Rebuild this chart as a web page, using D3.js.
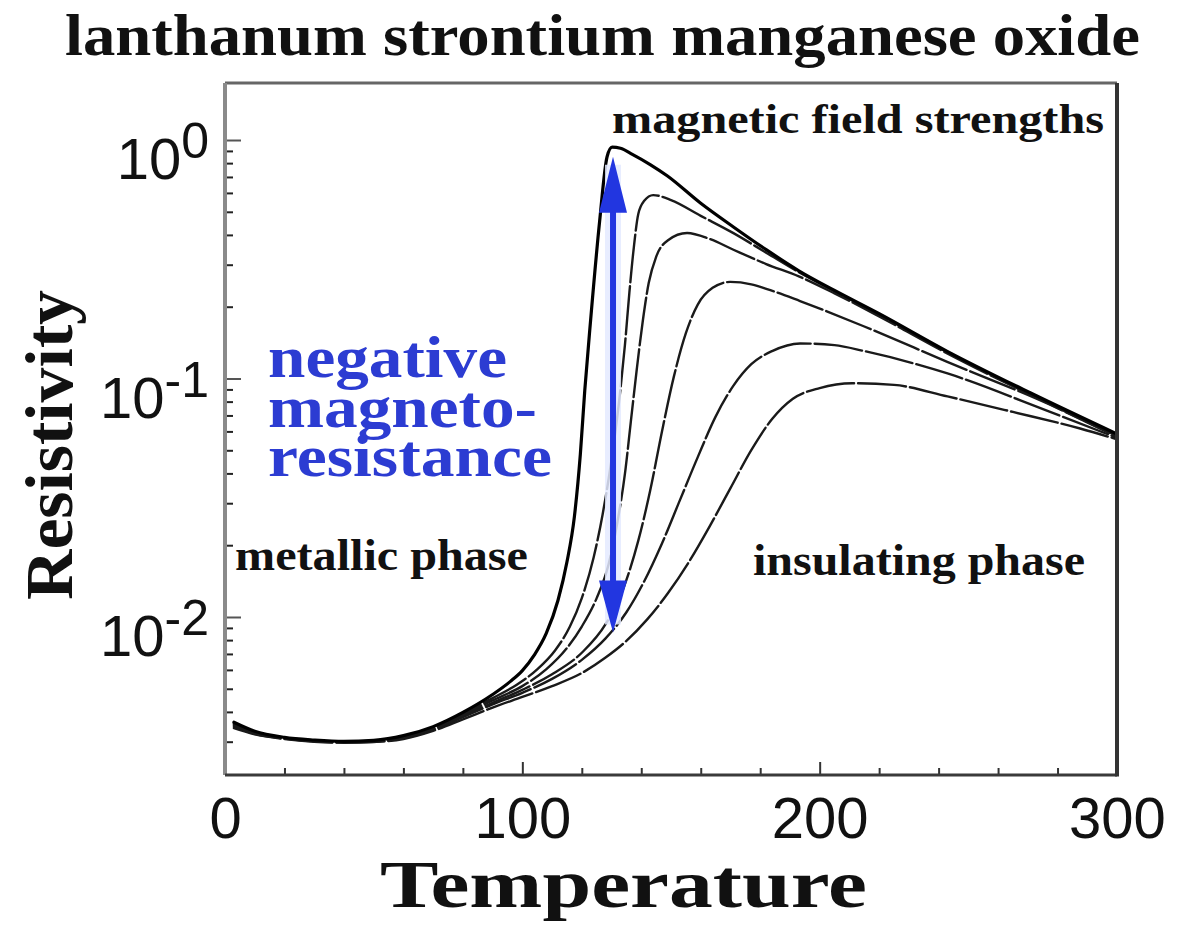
<!DOCTYPE html>
<html><head><meta charset="utf-8">
<script src="https://cdn.jsdelivr.net/npm/d3@7"></script>
<style>html,body{margin:0;padding:0;background:#fff;} svg{display:block;}</style>
</head><body>
<svg id="chart" width="1181" height="925"></svg>
<script>
// ---------- data (temperature in K, resistivity) ----------
const xTickValues = [0, 100, 200, 300];
const xMinorTickValues = [20, 40, 60, 80, 120, 140, 160, 180, 220, 240, 260, 280];
const yTickValues = [1, 0.1, 0.01];
const yTickExponents = ["0", "-1", "-2"];

const tempField0 = [3,10,20,30,40,50,60,70,80,90,96,100,104,108,112,115,117.5,119.5,121,123,126,128.5,130.2,133,137,143,148.7,160,171,182,193,205,220,242.9,270.8,300];
const rhoField0  = [3.62e-3,3.32e-3,3.13e-3,3.05e-3,3.01e-3,3.04e-3,3.18e-3,3.47e-3,3.98e-3,4.73e-3,5.37e-3,5.96e-3,6.92e-3,8.51e-3,0.01175,0.0170,0.0263,0.0479,0.0891,0.178,0.457,0.851,0.933,0.923,0.871,0.789,0.708,0.543,0.432,0.347,0.283,0.234,0.187,0.130,0.0871,0.0585];

const tempField1 = [3,10,20,30,40,50,60,70,80,90,98,105,111,116,120,124,127,130,132.5,134.5,136,137.5,139,141,144,150,160,171,182,193,205,220,242.9,270.8,300];
const rhoField1  = [3.58e-3,3.30e-3,3.12e-3,3.04e-3,3.00e-3,3.03e-3,3.16e-3,3.43e-3,3.94e-3,4.57e-3,5.19e-3,6.03e-3,7.24e-3,9.12e-3,0.0120,0.0178,0.0269,0.0457,0.0794,0.138,0.229,0.355,0.490,0.556,0.5875,0.560,0.481,0.407,0.337,0.279,0.232,0.185,0.1288,0.0863,0.0581];

const tempField2 = [3,10,20,30,40,50,60,70,80,90,100,108,115,120,125,129,132,134.5,136.5,138.5,140.5,142.5,145,149,155.4,163,171,182,193,205,220,242.9,270.8,300];
const rhoField2  = [3.54e-3,3.28e-3,3.11e-3,3.03e-3,3.00e-3,3.02e-3,3.14e-3,3.40e-3,3.89e-3,4.47e-3,5.13e-3,6.03e-3,7.41e-3,9.12e-3,0.0120,0.0166,0.0251,0.0398,0.0661,0.1096,0.1738,0.2512,0.3236,0.3802,0.4074,0.3846,0.3467,0.302,0.2679,0.2275,0.182,0.1274,0.0855,0.0575];

const tempField3 = [3,10,20,30,40,50,60,70,80,90,100,110,120,128,134,139,143,147,151,155,159,164,169.9,177,182.3,193.4,214.6,242.9,277.5,300];
const rhoField3  = [3.50e-3,3.26e-3,3.10e-3,3.02e-3,2.99e-3,3.01e-3,3.12e-3,3.39e-3,3.85e-3,4.37e-3,4.95e-3,5.75e-3,7.08e-3,9.33e-3,0.0132,0.0209,0.0339,0.0603,0.1023,0.1549,0.2042,0.2399,0.2541,0.2483,0.2371,0.2113,0.166,0.1175,0.0776,0.0569];

const tempField4 = [3,10,20,30,40,50,60,70,80,90,100,110,120,128,135,141,147,153,159,165,171,177,184,193.4,205,215,243,277.5,300];
const rhoField4  = [3.46e-3,3.24e-3,3.09e-3,3.01e-3,2.98e-3,3.00e-3,3.10e-3,3.36e-3,3.80e-3,4.30e-3,4.81e-3,5.50e-3,6.61e-3,8.13e-3,0.01047,0.01413,0.0204,0.0309,0.0468,0.0692,0.0933,0.1148,0.1303,0.1403,0.138,0.1303,0.105,0.0724,0.0564];

const tempField5 = [3,10,20,30,40,50,60,70,80,90,100,110,120,128,135,142,149,156,163,170,177,184,191,200,211,225,243,265,287.6,300];
const rhoField5  = [3.42e-3,3.22e-3,3.08e-3,3.00e-3,2.97e-3,2.99e-3,3.08e-3,3.33e-3,3.72e-3,4.17e-3,4.62e-3,5.13e-3,5.82e-3,6.76e-3,7.94e-3,9.77e-3,0.0126,0.0170,0.0240,0.0347,0.0501,0.0676,0.0822,0.0912,0.0955,0.094,0.0841,0.0724,0.0617,0.0556];

const arrowTemp = 130.5, arrowTop = 0.85, arrowBottom = 0.0086;

// ---------- layout ----------
const W = 1181, H = 925;
const plot = {left: 225, right: 1117, top: 83, bottom: 775};
const serif = "'Liberation Serif','DejaVu Serif','Times New Roman',serif";
const sans = "'Liberation Sans',Arial,'DejaVu Sans',sans-serif";
const blue = "#2236e0";
const textBlue = "#2c3cd2";

const x = d3.scaleLinear().domain([0, 300]).range([plot.left, plot.right]);
const y = d3.scaleLog().domain([0.002175, 1.734]).range([plot.bottom, plot.top]);

const svg = d3.select("#chart");
svg.append("rect").attr("width", W).attr("height", H).attr("fill", "#fff");

svg.append("defs").append("clipPath").attr("id", "clip")
  .append("rect").attr("x", plot.left).attr("y", plot.top)
  .attr("width", plot.right - plot.left).attr("height", plot.bottom - plot.top);

// ---------- curves ----------
const series = [
  {T: tempField0, R: rhoField0, w: 3.2, c: "#000", dash: null},
  {T: tempField1, R: rhoField1, w: 2.4, c: "#1a1a1a", dash: "48,4"},
  {T: tempField2, R: rhoField2, w: 2.4, c: "#1a1a1a", dash: "48,4"},
  {T: tempField3, R: rhoField3, w: 2.4, c: "#1a1a1a", dash: "48,4"},
  {T: tempField4, R: rhoField4, w: 2.4, c: "#1a1a1a", dash: "48,4"},
  {T: tempField5, R: rhoField5, w: 2.4, c: "#1a1a1a", dash: "48,4"}
];
const line = d3.line().x(d => x(d[0])).y(d => y(d[1])).curve(d3.curveMonotoneX);
const gCurves = svg.append("g").attr("clip-path", "url(#clip)");
series.slice().reverse().forEach(s => {
  gCurves.append("path").datum(d3.zip(s.T, s.R))
    .attr("d", line).attr("fill", "none")
    .attr("stroke", s.c).attr("stroke-width", s.w)
    .attr("stroke-linejoin", "round").attr("stroke-linecap", "round")
    .attr("stroke-dasharray", s.dash);
});

// ---------- blue double arrow ----------
const ax = x(arrowTemp), ayT = y(arrowTop), ayB = y(arrowBottom);
const gA = svg.append("g");
gA.append("line").attr("x1", ax).attr("x2", ax).attr("y1", ayT + 8).attr("y2", ayB - 8)
  .attr("stroke", "#e4eaff").attr("stroke-width", 16).attr("opacity", 0.85);
gA.append("line").attr("x1", ax).attr("x2", ax).attr("y1", ayT + 50).attr("y2", ayB - 45)
  .attr("stroke", blue).attr("stroke-width", 6);
gA.append("path").attr("d", `M${ax},${ayT} L${ax-14},${ayT+56} L${ax+14},${ayT+56} Z`).attr("fill", blue);
gA.append("path").attr("d", `M${ax},${ayB} L${ax-14},${ayB-52} L${ax+14},${ayB-52} Z`).attr("fill", blue);

// ---------- axes ----------
const xMajor = svg.append("g").attr("transform", `translate(0,${plot.bottom})`)
  .call(d3.axisBottom(x).tickValues(xTickValues).tickSize(-13).tickPadding(22).tickFormat(d3.format("d")));
xMajor.select(".domain").remove();
xMajor.selectAll(".tick line").attr("stroke", "#333").attr("stroke-width", 2);
xMajor.selectAll(".tick text").attr("font-family", sans).attr("font-size", 58).attr("fill", "#111");

const xMinor = svg.append("g").attr("transform", `translate(0,${plot.bottom})`)
  .call(d3.axisBottom(x).tickValues(xMinorTickValues).tickSize(-7).tickFormat(""));
xMinor.select(".domain").remove();
xMinor.selectAll(".tick line").attr("stroke", "#333").attr("stroke-width", 2);

const isMajor = v => Math.abs(Math.log10(v) - Math.round(Math.log10(v))) < 1e-9;
const yMinorVals = y.ticks().filter(v => !isMajor(v));
const yMinor = svg.append("g").attr("transform", `translate(${plot.left},0)`)
  .call(d3.axisLeft(y).tickValues(yMinorVals).tickSize(-8).tickFormat(""));
yMinor.select(".domain").remove();
yMinor.selectAll(".tick line").attr("stroke", "#222").attr("stroke-width", 2);

const yMajor = svg.append("g").attr("transform", `translate(${plot.left},0)`)
  .call(d3.axisLeft(y).tickValues(yTickValues).tickSize(-16).tickFormat(""));
yMajor.select(".domain").remove();
yMajor.selectAll(".tick line").attr("stroke", "#555").attr("stroke-width", 2);

const yLab = svg.append("g").selectAll("text").data(yTickValues).join("text")
  .attr("x", 209).attr("y", d => y(d) + 39)
  .attr("text-anchor", "end").attr("font-family", sans).attr("fill", "#111");
yLab.append("tspan").attr("font-size", 58).text("10");
yLab.append("tspan").attr("font-size", 50).attr("dy", -21).text((d, i) => yTickExponents[i]);

// ---------- frame ----------
const fr = svg.append("g").attr("fill", "none");
fr.append("line").attr("x1", plot.left).attr("x2", plot.right).attr("y1", plot.top).attr("y2", plot.top)
  .attr("stroke", "#666").attr("stroke-width", 3);
fr.append("line").attr("x1", plot.left).attr("x2", plot.left).attr("y1", plot.top).attr("y2", plot.bottom)
  .attr("stroke", "#8a8a8a").attr("stroke-width", 4);
fr.append("line").attr("x1", plot.left).attr("x2", plot.right).attr("y1", plot.bottom).attr("y2", plot.bottom)
  .attr("stroke", "#3a3a3a").attr("stroke-width", 3);
fr.append("line").attr("x1", plot.right).attr("x2", plot.right).attr("y1", plot.top).attr("y2", plot.bottom + 1.5)
  .attr("stroke", "#333").attr("stroke-width", 4);

// ---------- texts ----------
function label(txt, xPos, yPos, size, len, color, anchor) {
  return svg.append("text").attr("x", xPos).attr("y", yPos)
    .attr("font-family", serif).attr("font-weight", "bold").attr("font-size", size)
    .attr("fill", color || "#111").attr("text-anchor", anchor || "start")
    .attr("textLength", len).attr("lengthAdjust", "spacingAndGlyphs").text(txt);
}
label("lanthanum strontium manganese oxide", 65, 55, 60, 1075);
label("magnetic field strengths", 612, 133, 43, 492);
label("metallic phase", 235, 570, 44, 293);
label("insulating phase", 753, 575, 44, 332);
label("negative", 268, 377, 60, 239, textBlue);
label("magneto-", 268, 427, 60, 269, textBlue);
label("resistance", 268, 476, 60, 284, textBlue);
label("Temperature", 380, 907, 68, 487);
svg.append("text").attr("transform", "translate(72,445) rotate(-90)")
  .attr("text-anchor", "middle").attr("font-family", serif).attr("font-weight", "bold")
  .attr("font-size", 68).attr("fill", "#111")
  .attr("textLength", 310).attr("lengthAdjust", "spacingAndGlyphs").text("Resistivity");
</script>
</body></html>
